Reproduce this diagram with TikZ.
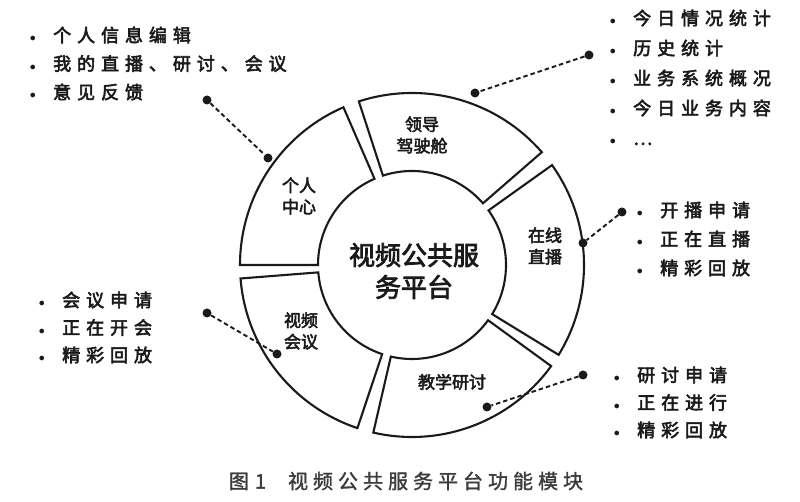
\documentclass[tikz,border=0pt]{standalone}
\usepackage{fontspec}
\newfontfamily\cjklist[FakeBold=3,LetterSpace=33]{Noto Sans CJK SC}
\newfontfamily\cjklab[FakeBold=3]{Noto Sans CJK SC}
\newfontfamily\cjkcap[FakeBold=1.5,LetterSpace=25]{Noto Sans CJK SC}
\definecolor{ink}{HTML}{1A1A1A}
\definecolor{capgray}{HTML}{3C3C3C}
\newcommand\bul{\makebox[23.25pt][l]{\fontsize{13}{13}\selectfont$\bullet$}}
\tikzset{
  sector/.style={draw=ink, line width=2.1pt, fill=white, line join=miter},
  dot/.style={circle, fill=ink, inner sep=0pt, minimum size=9pt},
  link/.style={draw=ink, line width=1.9pt, dash pattern=on 4.5pt off 3pt},
  lst/.style={align=left, inner sep=0pt, anchor=west, text=ink},
  lab/.style={align=center, inner sep=0pt, text=ink, font=\cjklab\fontsize{17}{21.5}\selectfont},
}
\newcommand\sect[2]{%
  \draw[sector] ([shift={(#1:94pt)}]C) arc[start angle=#1, end angle=#2, radius=94pt]
    -- ([shift={(#2:172pt)}]C) arc[start angle=#2, end angle=#1, radius=172pt] -- cycle;}
\begin{document}
\begin{tikzpicture}[x=1pt,y=1pt]
\useasboundingbox (0,0) rectangle (800,502);
\coordinate (C) at (412,237);
% sectors
\sect{41}{108}
\sect{113.5}{180}
\sect{184.5}{251.5}
\sect{257}{324}
\sect{-31.5}{35.5}
% centre
\node[align=center, inner sep=0pt, text=ink, font=\cjklab\fontsize{26}{32}\selectfont] (hub) at (414,231) {视频公共服\\务平台};
% sector labels
\node[lab] (ld) at (422,367) {领导\\驾驶舱};
\node[lab] (gr) at (299,306) {个人\\中心};
\node[lab] (zx) at (545,256) {在线\\直播};
\node[lab] (sp) at (301,171) {视频\\会议};
\node[lab] (jx) at (452,120) {教学研讨};
% lists
\node[lst, font=\cjklist\fontsize{18}{28.5}\selectfont] (l1) at (29.75,438.5)
  {\bul 个人信息编辑\\\bul 我的直播、研讨、会议\\\bul 意见反馈};
\node[lst, font=\cjklist\fontsize{18}{30}\selectfont] (l2) at (609.75,424)
  {\bul 今日情况统计\\\bul 历史统计\\\bul 业务系统概况\\\bul 今日业务内容\\\bul …\vphantom{国}};
\node[lst, font=\cjklist\fontsize{18}{27.5}\selectfont] (l3) at (38.75,174.5)
  {\bul 会议申请\\\bul 正在开会\\\bul 精彩回放};
\node[lst, font=\cjklist\fontsize{18}{29}\selectfont] (l4) at (636.75,263)
  {\bul 开播申请\\\bul 正在直播\\\bul 精彩回放};
\node[lst, font=\cjklist\fontsize{18}{27.5}\selectfont] (l5) at (613.75,99.5)
  {\bul 研讨申请\\\bul 正在进行\\\bul 精彩回放};
% connectors
\node[dot] (a1) at (207,402) {};
\node[dot] (a2) at (268,344) {};
\draw[link] (a1) -- (a2);
\node[dot] (b1) at (589,447) {};
\node[dot] (b2) at (475,409) {};
\draw[link] (b1) -- (b2);
\node[dot] (c1) at (622,290) {};
\node[dot] (c2) at (583,259) {};
\draw[link] (c1) -- (c2);
\node[dot] (e1) at (207,189) {};
\node[dot] (e2) at (277,148) {};
\draw[link] (e1) -- (e2);
\node[dot] (f1) at (583,127) {};
\node[dot] (f2) at (487,95) {};
\draw[link] (f1) -- (f2);
% caption
\node[inner sep=0pt, text=capgray, font=\cjkcap\fontsize{20}{24}\selectfont] (cap) at (406,21)
  {图\hspace{6pt}1\hspace{22pt}视频公共服务平台功能模块};
\end{tikzpicture}
\end{document}
